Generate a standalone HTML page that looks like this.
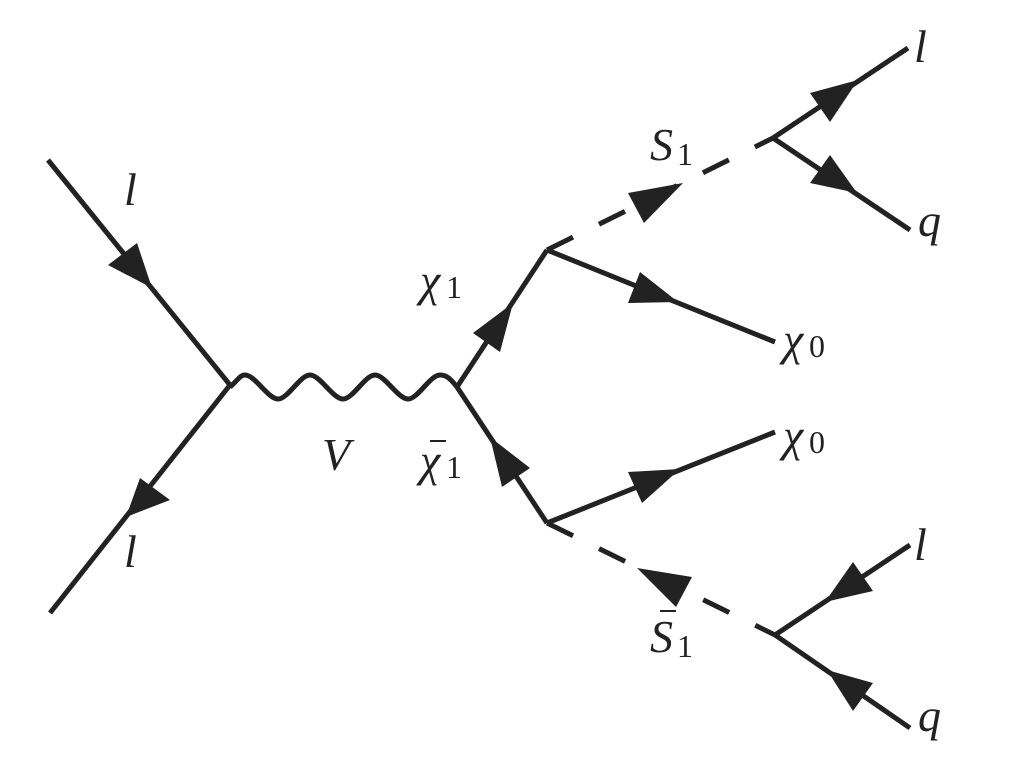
<!DOCTYPE html>
<html><head><meta charset="utf-8"><style>
html,body{margin:0;padding:0;background:#fff;}
svg{display:block}
</style></head><body>
<svg width="1020" height="780" viewBox="0 0 1020 780" xmlns="http://www.w3.org/2000/svg" font-family="'Liberation Serif','DejaVu Serif',serif">
<g stroke="#222" stroke-width="5" fill="none" stroke-linecap="butt">
<line x1="48" y1="160" x2="230" y2="385"/>
<line x1="230" y1="385" x2="50" y2="613"/>
<path d="M230,387 C238,380 240,375 245,375 C255,375 268,399 278,399 C288,399 300,375 310,375 C320,375 333,399 343,399 C353,399 365,375 375,375 C385,375 398,399 408,399 C418,399 430,375 440,375 C448,375 452,381 457,387"/>
<line x1="457" y1="387" x2="547" y2="250"/>
<line x1="457" y1="387" x2="547" y2="523"/>
<line x1="547" y1="250" x2="775" y2="342"/>
<line x1="547" y1="523" x2="775" y2="432"/>
<line x1="547" y1="250" x2="773" y2="138" stroke-dasharray="29 29"/>
<line x1="547" y1="523" x2="775" y2="635" stroke-dasharray="29 29"/>
<line x1="773" y1="138" x2="908" y2="48"/>
<line x1="773" y1="138" x2="910" y2="230"/>
<line x1="775" y1="635" x2="910" y2="545"/>
<line x1="775" y1="635" x2="910" y2="728"/>
</g>
<g fill="#222">
<polygon points="108,265 137,243 152,288"/>
<polygon points="140,478 170,500 126,517"/>
<polygon points="473,333 500,352 513,303"/>
<polygon points="490,437 530,468 502,487"/>
<polygon points="640,272 628,303 678,302"/>
<polygon points="628,472 642,503 680,469"/>
<polygon points="628,193 683,183 644,223"/>
<polygon points="637,568 692,577 676,607"/>
<polygon points="810,93 858,80 830,122"/>
<polygon points="810,183 830,155 857,193"/>
<polygon points="853,562 873,591 825,602"/>
<polygon points="827,670 873,683 853,711"/>
</g>
<g fill="#222" font-family="'Liberation Serif','DejaVu Serif',serif">
<text font-style="italic" font-size="46" x="124" y="205">l</text>
<text font-style="italic" font-size="46" x="124" y="567">l</text>
<text font-style="italic" font-size="46" x="322" y="470">V</text>
<text font-style="italic" font-size="46" x="420" y="296">χ</text><text font-size="32" x="446" y="298">1</text>
<text font-style="italic" font-size="46" x="420" y="476">χ</text><text font-size="32" x="446" y="478">1</text>
<text font-style="italic" font-size="46" x="783" y="355">χ</text><text font-size="32" x="809" y="357">0</text>
<text font-style="italic" font-size="46" x="783" y="451">χ</text><text font-size="32" x="809" y="453">0</text>
<text font-style="italic" font-size="46" x="650" y="160">S</text><text font-size="32" x="677" y="165">1</text>
<text font-style="italic" font-size="46" x="650" y="652">S</text><text font-size="32" x="677" y="657">1</text>
<text font-style="italic" font-size="46" x="914" y="62">l</text>
<text font-style="italic" font-size="46" x="918" y="236">q</text>
<text font-style="italic" font-size="46" x="914" y="560">l</text>
<text font-style="italic" font-size="46" x="918" y="731">q</text>
</g>
<line x1="430" y1="441" x2="446" y2="441" stroke="#222" stroke-width="2"/>
<line x1="660" y1="611" x2="676" y2="611" stroke="#222" stroke-width="2"/>
</svg>
</body></html>
